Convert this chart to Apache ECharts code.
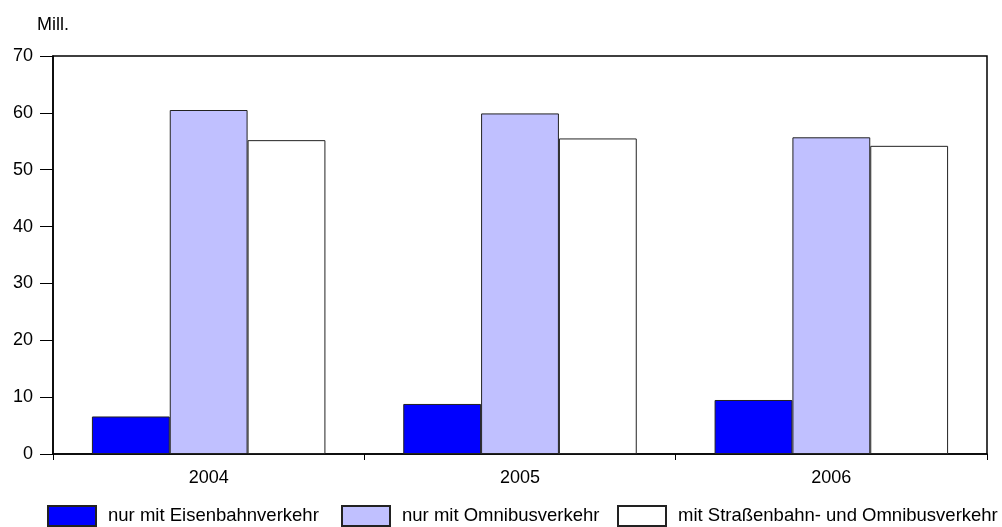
<!DOCTYPE html>
<html>
<head>
<meta charset="utf-8">
<script src="https://cdn.jsdelivr.net/npm/echarts@6/dist/echarts.min.js"></script>
<style>
  html, body { margin: 0; padding: 0; background: #fff; }
  #chart { width: 1002px; height: 527px; }
</style>
</head>
<body>
<div id="chart"></div>
<script>
// Fahrgäste in Millionen nach Verkehrsart
const years = ['2004', '2005', '2006'];
const eisenbahn = [6.6, 8.8, 9.5];
const omnibus = [60.5, 59.9, 55.7];
const strassenbahnOmnibus = [55.2, 55.5, 54.2];
const seriesNames = ['nur mit Eisenbahnverkehr', 'nur mit Omnibusverkehr', 'mit Straßenbahn- und Omnibusverkehr'];
const yTicks = [0, 10, 20, 30, 40, 50, 60, 70];

const font = 'Liberation Sans, Arial, sans-serif';
const chart = echarts.init(document.getElementById('chart'), null, { renderer: 'canvas' });

const barStyle = (color) => ({ color: color, borderColor: '#222', borderWidth: 1 });

// one legend block per series so each entry sits at its own place in the row
const legendLefts = [42, 336, 612];
const legends = seriesNames.map((name, i) => ({
  left: legendLefts[i], top: 500,
  itemWidth: 48, itemHeight: 20,
  icon: 'rect',
  textStyle: { fontSize: 18.5, fontFamily: font, color: '#000', padding: [2, 0, 0, 7] },
  data: [name]
}));

chart.setOption({
  animation: false,
  backgroundColor: '#ffffff',
  textStyle: { fontFamily: font, color: '#000' },
  graphic: [{
    type: 'text', left: 37, top: 16,
    style: { text: 'Mill.', font: '18px ' + font, fill: '#000' }
  }],
  grid: {
    left: 53, right: 15, top: 56, bottom: 73,
    show: true, borderColor: '#000', borderWidth: 1.5, backgroundColor: 'transparent'
  },
  legend: legends,
  xAxis: {
    type: 'category',
    data: years,
    axisLine: { lineStyle: { color: '#000', width: 1.5 } },
    axisTick: { show: true, length: 6, lineStyle: { color: '#000' } },
    axisLabel: { fontSize: 18, color: '#000', margin: 15, fontFamily: font }
  },
  yAxis: {
    type: 'value',
    min: 0, max: 70, interval: 10,
    splitLine: { show: false },
    axisLine: { show: true, lineStyle: { color: '#000', width: 1.5 } },
    axisTick: { show: true, length: 13, lineStyle: { color: '#000' } },
    axisLabel: {
      fontSize: 18, color: '#000', margin: 20, fontFamily: font,
      formatter: (v) => (yTicks.includes(v) ? String(v) : '')
    }
  },
  series: [
    { name: seriesNames[0], type: 'bar', data: eisenbahn, barGap: '0%', barCategoryGap: '25%', itemStyle: barStyle('#0000ff') },
    { name: seriesNames[1], type: 'bar', data: omnibus, barGap: '0%', barCategoryGap: '25%', itemStyle: barStyle('#c0c0ff') },
    { name: seriesNames[2], type: 'bar', data: strassenbahnOmnibus, barGap: '0%', barCategoryGap: '25%', itemStyle: barStyle('#ffffff') }
  ]
});
</script>
</body>
</html>
